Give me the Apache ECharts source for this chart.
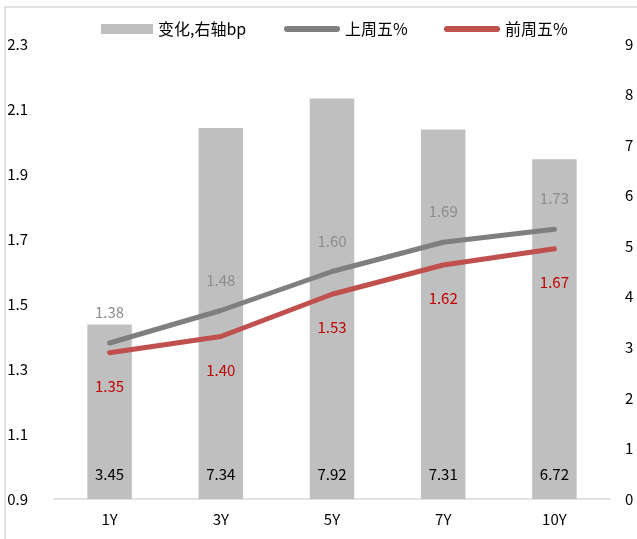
<!DOCTYPE html>
<html><head><meta charset="utf-8">
<script src="https://cdn.jsdelivr.net/npm/echarts@6/dist/echarts.min.js"></script>
<style>html,body{margin:0;padding:0;background:#fff}#c{width:637px;height:539px}</style>
</head><body><div id="c"></div>
<script>
const categories = ['1Y','3Y','5Y','7Y','10Y'];
const changeBp = [3.45,7.34,7.92,7.31,6.72];
const lastFri = [1.38,1.48,1.60,1.69,1.73];
const prevFri = [1.35,1.40,1.53,1.62,1.67];
const leftTicks = {min:0.9,max:2.3,interval:0.2};
const rightTicks = {min:0,max:9,interval:1};
const names = ['变化,右轴bp','上周五%','前周五%'];

const font = '"Noto Sans CJK SC", "Open Sans", sans-serif';
const chart = echarts.init(document.getElementById('c'));
const capsule = 'path://M3,0 L53,0 A3,3 0 0 1 53,6 L3,6 A3,3 0 0 1 3,0 Z';
const legendBase = {top:21, padding:0, itemGap:0, textStyle:{fontSize:16,color:'#000',fontFamily:font}, selectedMode:false};
chart.setOption({
  animation:false,
  textStyle:{fontFamily:font},
  graphic:[{type:'rect',shape:{x:5,y:7,width:700,height:600},style:{fill:'none',stroke:'#d9d9d9',lineWidth:1.5},silent:true}],
  legend:[
    Object.assign({}, legendBase, {left:101, data:[{name:names[0],icon:'rect'}], itemWidth:52, itemHeight:10}),
    Object.assign({}, legendBase, {left:284, data:[{name:names[1],icon:capsule}], itemWidth:56, itemHeight:6}),
    Object.assign({}, legendBase, {left:444, data:[{name:names[2],icon:capsule}], itemWidth:56, itemHeight:6})
  ],
  grid:{left:54,right:27,top:44,bottom:40,containLabel:false},
  xAxis:{type:'category',data:categories,
    axisLine:{lineStyle:{color:'#d9d9d9',width:1.5}},axisTick:{show:false},
    axisLabel:{color:'#000',fontSize:15,margin:13,fontFamily:font}},
  yAxis:[
    {type:'value',min:leftTicks.min,max:leftTicks.max,interval:leftTicks.interval,
     splitLine:{show:false},axisLine:{show:false},axisTick:{show:false},
     axisLabel:{color:'#000',fontSize:15,margin:26,fontFamily:font,formatter:v=>v.toFixed(1)}},
    {type:'value',min:rightTicks.min,max:rightTicks.max,interval:rightTicks.interval,position:'right',
     splitLine:{show:false},axisLine:{show:false},axisTick:{show:false},
     axisLabel:{color:'#000',fontSize:15,margin:15,fontFamily:font}}
  ],
  series:[
    {name:names[0],type:'bar',yAxisIndex:1,data:changeBp,barWidth:'40%',
     itemStyle:{color:'#bfbfbf'},
     label:{show:true,position:'insideBottom',distance:17,color:'#000',fontSize:15,fontFamily:font,formatter:p=>p.value.toFixed(2)}},
    {name:names[1],type:'line',yAxisIndex:0,data:lastFri,symbol:'circle',symbolSize:0,showSymbol:true,
     lineStyle:{color:'#7f7f7f',width:5,cap:'round'},itemStyle:{color:'#7f7f7f'},
     label:{show:true,position:'top',distance:23,color:'#8c8c8c',fontSize:15,fontFamily:font,formatter:p=>p.value.toFixed(2)}},
    {name:names[2],type:'line',yAxisIndex:0,data:prevFri,symbol:'circle',symbolSize:0,showSymbol:true,
     lineStyle:{color:'#c0504d',width:5,cap:'round'},itemStyle:{color:'#c0504d'},
     label:{show:true,position:'bottom',distance:26,color:'#c00000',fontSize:15,fontFamily:font,formatter:p=>p.value.toFixed(2)}}
  ]
});
</script></body></html>
